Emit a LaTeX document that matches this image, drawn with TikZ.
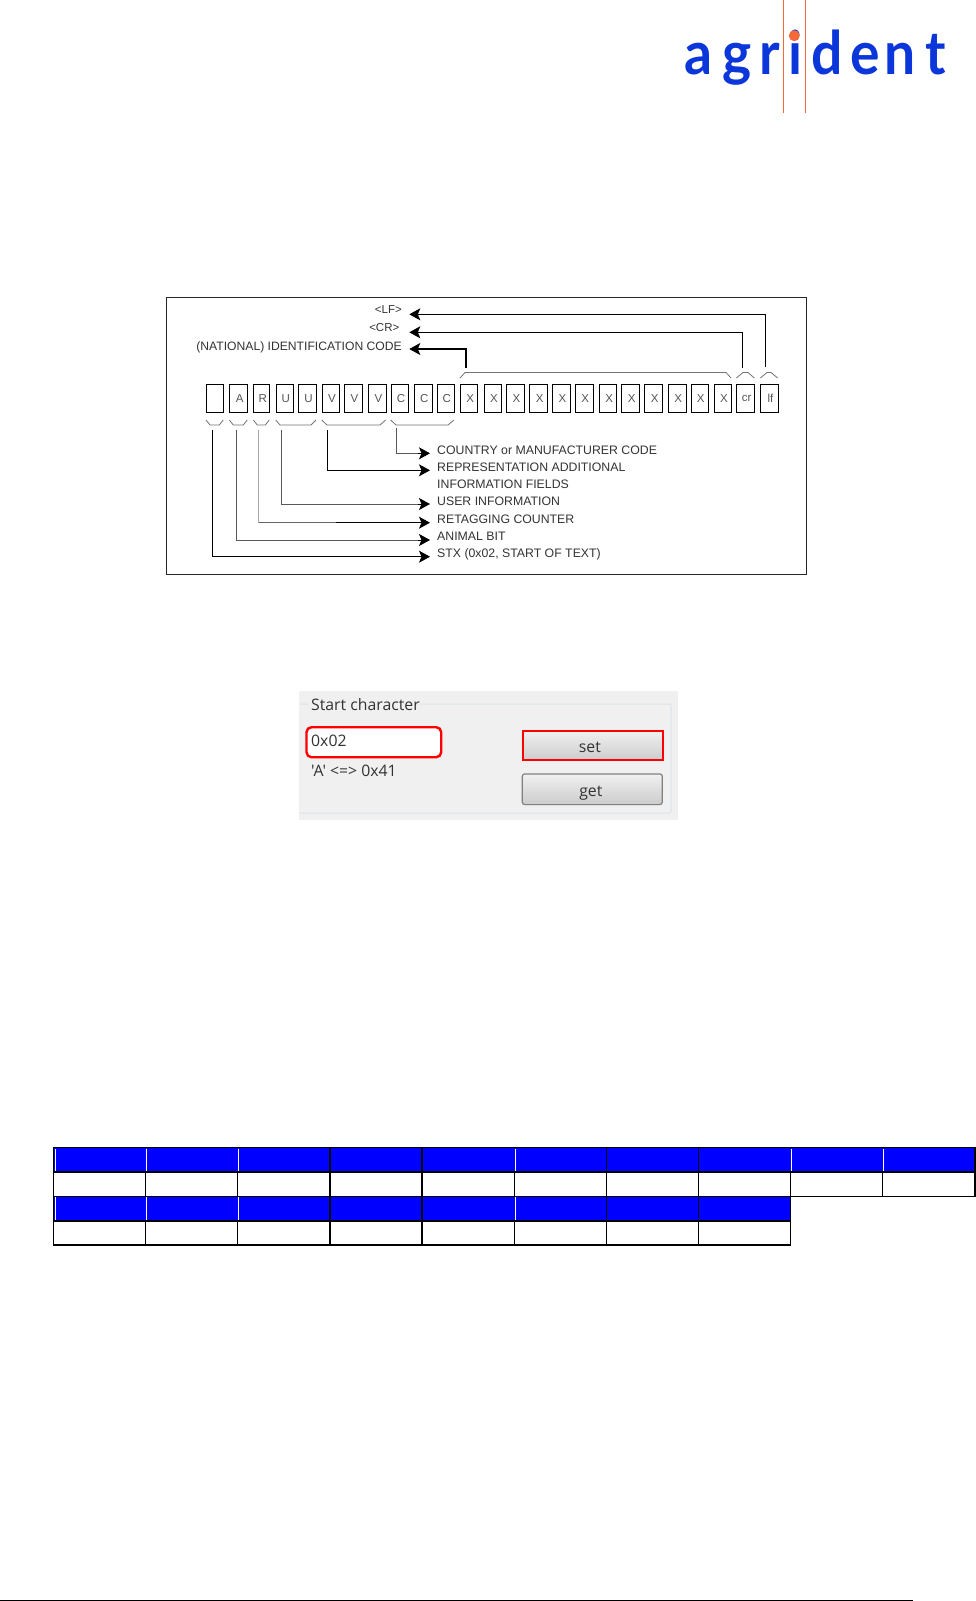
\documentclass[tikz,border=0pt]{standalone}
\usepackage{fontspec}
\setmainfont{Liberation Sans}
\newfontfamily\uifont{Open Sans}
\newfontfamily\logofont[FakeStretch=0.92]{Lato Bold}
\usetikzlibrary{arrows.meta,calc}
\definecolor{logoblue}{HTML}{0B36D9}
\definecolor{logoorange}{HTML}{F4693A}
\definecolor{cellgray}{HTML}{555555}
\definecolor{tblue}{HTML}{0000FF}
\definecolor{uibg}{HTML}{F0F0F0}
\definecolor{uiline}{HTML}{DCE3E8}
\definecolor{uitext}{HTML}{333333}
\newcommand{\logoletter}[2]{\makebox[#1pt][l]{#2}}
\tikzset{
  x=1pt,y=-1pt,
  cellbox/.style={draw=black,line width=0.9pt,fill=white,inner sep=0pt,minimum height=28pt,text=cellgray,font=\fontsize{11.5}{12}\selectfont},
  lbl/.style={inner sep=0pt,text=black!80,font=\fontsize{12.3}{14}\selectfont},
  smalllbl/.style={lbl,font=\fontsize{11.5}{12}\selectfont},
  conn/.style={line width=0.9pt,-{Stealth[length=11pt,width=12pt,inset=2.5pt]}},
  graywire/.style={line width=0.9pt,draw=black!65},
  brc/.style={draw=black!55,line width=0.8pt},
  uitxt/.style={inner sep=0pt,text=uitext,font=\uifont\fontsize{15.8}{17}\selectfont},
  btntxt/.style={uitxt,text height=14pt,text depth=0pt},
  tbl/.style={draw=black,line width=1.4pt},
  thn/.style={draw=black,line width=1.1pt},
  thk/.style={draw=black,line width=2.4pt},
  sep/.style={draw=white,line width=1pt},
  headtip/.style={-{Stealth[length=11pt,width=12pt,inset=2.5pt]},line width=0.9pt},
}
\begin{document}
\begin{tikzpicture}
\useasboundingbox (0,0) rectangle (976,1601);
\fill[white] (0,0) rectangle (976,1601);

% logo
\node[anchor=base west,inner sep=0pt,text=logoblue,font=\logofont\fontsize{60}{64}\selectfont] (logo) at (684,74) {\logoletter{38}{a}\logoletter{37}{g}\logoletter{29}{r}\logoletter{23}{i}\logoletter{39}{d}\logoletter{34}{e}\logoletter{41}{n}t};
\draw[draw=logoorange,line width=1.3pt] (783.7,0) coordinate (lt1) -- (783.7,113.3) coordinate (lb1);
\draw[draw=logoorange,line width=1.3pt] (805.3,0) coordinate (lt2) -- (805.3,113.3) coordinate (lb2);
\fill[logoorange] (794.3,35.7) circle (5.5);

% frame
\node[draw=black!85,line width=0.8pt,minimum width=640.3pt,minimum height=276.7pt,anchor=north west,inner sep=0pt] (frame) at (165.7,297.3) {};

% cells
\foreach \nm/\xa/\xb/\t in {c1/206/223.3/{},c2/229.3/247.3/A,c3/253.3/269.3/R,c4/275.7/292.7/U,c5/298.3/316/U,c6/321.7/339.3/V,c7/344.3/361.7/V,c8/368.3/385.7/V,c9/390.7/408.3/C,c10/414/431.7/C,c11/436.7/454/C,c12/460/477.3/X,c13/484.3/500.7/X,c14/506.3/523.7/X,c15/529/547.3/X,c16/552/570/X,c17/575/592.7/X,c18/599.3/616/X,c19/621.3/639.3/X,c20/644.3/662.3/X,c21/668/685.7/X,c22/690.7/708/X,c23/714/731/X,c24/736.3/754.3/cr,c25/760.3/777.7/lf}{
  \node[cellbox,minimum width={\xb pt-\xa pt},anchor=north west] (\nm) at (\xa,384.3) {\hspace{2pt}\t};
}

% braces
\draw[brc] (206,420) -- (210,425) -- (219.3,425) -- (223.3,420);
\draw[brc] (229.3,420) -- (233.3,425) -- (243.3,425) -- (247.3,420);
\draw[brc] (253.3,420) -- (257.3,425) -- (265.3,425) -- (269.3,420);
\draw[brc] (275.7,420) -- (280,425) -- (311,425) -- (316,420);
\draw[brc] (321.7,420) -- (327,425) -- (380,425) -- (385.7,420);
\draw[brc] (390.7,420) -- (396,425) -- (448,425) -- (454,420);
\draw[brc] (460,378) -- (465,372.5) -- (726,372.5) -- (731,378);
\draw[brc] (736.3,378) -- (743,372.5) -- (748,372.5) -- (754.3,378);
\draw[brc] (760.3,378) -- (767,372.5) -- (771,372.5) -- (777.7,378);

% tips and starts
\foreach \nm/\x/\y in {tLF/409.3/314.3,tCR/409.3/332.3,tID/409.3/349,sLF/765.7/367,sCR/742.3/367.7,sID/466/368.3,
  tC/430/453.3,tV/430/470.3,tU/430/504,tR/430/522.7,tA/430/540,tS/430/556.7,
  sC/396.3/428,sV/327.3/430,sU/281.7/430,sR/258.7/430,sA/236/430,sS/212.7/430,mR/336/522.7,cR/258.7/522.7,
  hC/418/453.3,hU/418/504,hA/418/540}{
  \coordinate (\nm) at (\x,\y);
}
\draw[conn] (sLF) |- (tLF);
\draw[conn] (sCR) |- (tCR);
\draw[conn,line width=1.3pt] (sID) |- (tID);
\draw[graywire] (sC) |- (hC);
\draw[headtip] (hC) -- (tC);
\draw[conn] (sV) |- (tV);
\draw[graywire,line width=0.7pt] (sU) |- (hU);
\draw[headtip] (hU) -- (tU);
\draw[draw=black!35,line width=1.4pt] (sR) -- (cR);
\draw[draw=black!60,line width=1.3pt] (cR) -- (mR);
\draw[conn,line width=1.3pt] (mR) -- (tR);
\draw[graywire] (sA) |- (hA);
\draw[headtip] (hA) -- (tA);
\draw[conn] (sS) |- (tS);

% labels
\node[smalllbl,anchor=east] (nLF) at (402,310) {<LF>};
\node[smalllbl,anchor=east] (nCR) at (399.5,327.7) {<CR>};
\node[lbl,anchor=east,font=\fontsize{12.15}{14}\selectfont] (nID) at (402,347.2) {(NATIONAL) IDENTIFICATION CODE};
\node[lbl,anchor=west] (n1) at (437,450) {COUNTRY or MANUFACTURER CODE};
\node[lbl,anchor=west] (n2) at (437,467.2) {REPRESENTATION ADDITIONAL};
\node[lbl,anchor=west] (n3) at (437,484.3) {INFORMATION FIELDS};
\node[lbl,anchor=west] (n4) at (437,501.5) {USER INFORMATION};
\node[lbl,anchor=west] (n5) at (437,519.3) {RETAGGING COUNTER};
\node[lbl,anchor=west] (n6) at (437,536) {ANIMAL BIT};
\node[lbl,anchor=west] (n7) at (437,554.5) {STX (0x02, START OF TEXT)};

% screenshot
\fill[uibg] (299,691) rectangle (678,820);
\draw[uiline,line width=1pt,rounded corners=2pt] (299,704) -- (671,704) -- (671,813) -- (299,813);
\fill[uibg] (308,698) rectangle (420,712);
\node[uitxt,anchor=west] (sc) at (311,705) {Start character};
\node[draw=red,line width=2.4pt,rounded corners=5pt,fill=white,minimum width=134.7pt,minimum height=30pt,anchor=north west,inner sep=0pt] (inp) at (305.3,726) {};
\node[uitxt,anchor=west] (v1) at (311,741) {0x02};
\node[uitxt,anchor=west] (v2) at (311,770.7) {'A' <=> 0x41};
\node[draw=red,line width=2.4pt,top color=uibg,bottom color=black!20,minimum width=140pt,minimum height=29pt,anchor=north west,inner sep=0pt,btntxt] (bset) at (521.7,730) {\kern-6pt set};
\node[draw=black!50,line width=1.2pt,rounded corners=2.5pt,top color=uibg,bottom color=black!20,minimum width=140pt,minimum height=30.7pt,anchor=north west,inner sep=0pt,btntxt] (bget) at (521.7,773.3) {\kern-3pt get};

% table
\fill[tblue] (53.7,1147.7) rectangle (975,1171.7);
\fill[tblue] (53.7,1196.3) rectangle (790.7,1220.7);
\foreach \x in {145.7,237.7,514.7,790.7,882.7}{
  \draw[sep] (\x+0.7,1148.5) -- (\x+0.7,1171);
}
\foreach \x in {145.7,237.7,514.7}{
  \draw[sep] (\x+0.7,1197) -- (\x+0.7,1220);
}
\draw[sep] (55.5,1148.5) -- (55.5,1171);
\draw[sep] (55.5,1197) -- (55.5,1220);
\draw[tbl] (53.7,1147.7) -- (975,1147.7) -- (975,1196.3) -- (53.7,1196.3) -- cycle;
\draw[tbl] (53.7,1196.3) -- (53.7,1245) -- (790.7,1245) -- (790.7,1196.3);
\draw[thk] (53.7,1171.7) -- (975,1171.7);
\draw[thk] (53.7,1220.7) -- (790.7,1220.7);
\foreach \x in {145.7,237.7,514.7}{
  \draw[thn] (\x,1171.7) -- (\x,1196.3);
  \draw[thn] (\x,1220.7) -- (\x,1245);
}
\foreach \x in {606.3,698.7}{
  \draw[thn] (\x,1147.7) -- (\x,1245);
}
\draw[thn] (790.7,1171.7) -- (790.7,1196.3);
\draw[thn] (882.7,1171.7) -- (882.7,1196.3);
\foreach \x in {330,422}{
  \draw[thk,line width=1.9pt] (\x,1147.7) -- (\x,1245);
}
\draw[thk,line width=1.9pt] (975,1147.7) -- (975,1196.3);

% foot rule
\draw[black,line width=1.1pt] (0,1600.6) coordinate (r0) -- (912.7,1600.6) coordinate (r1);
\end{tikzpicture}
\end{document}
